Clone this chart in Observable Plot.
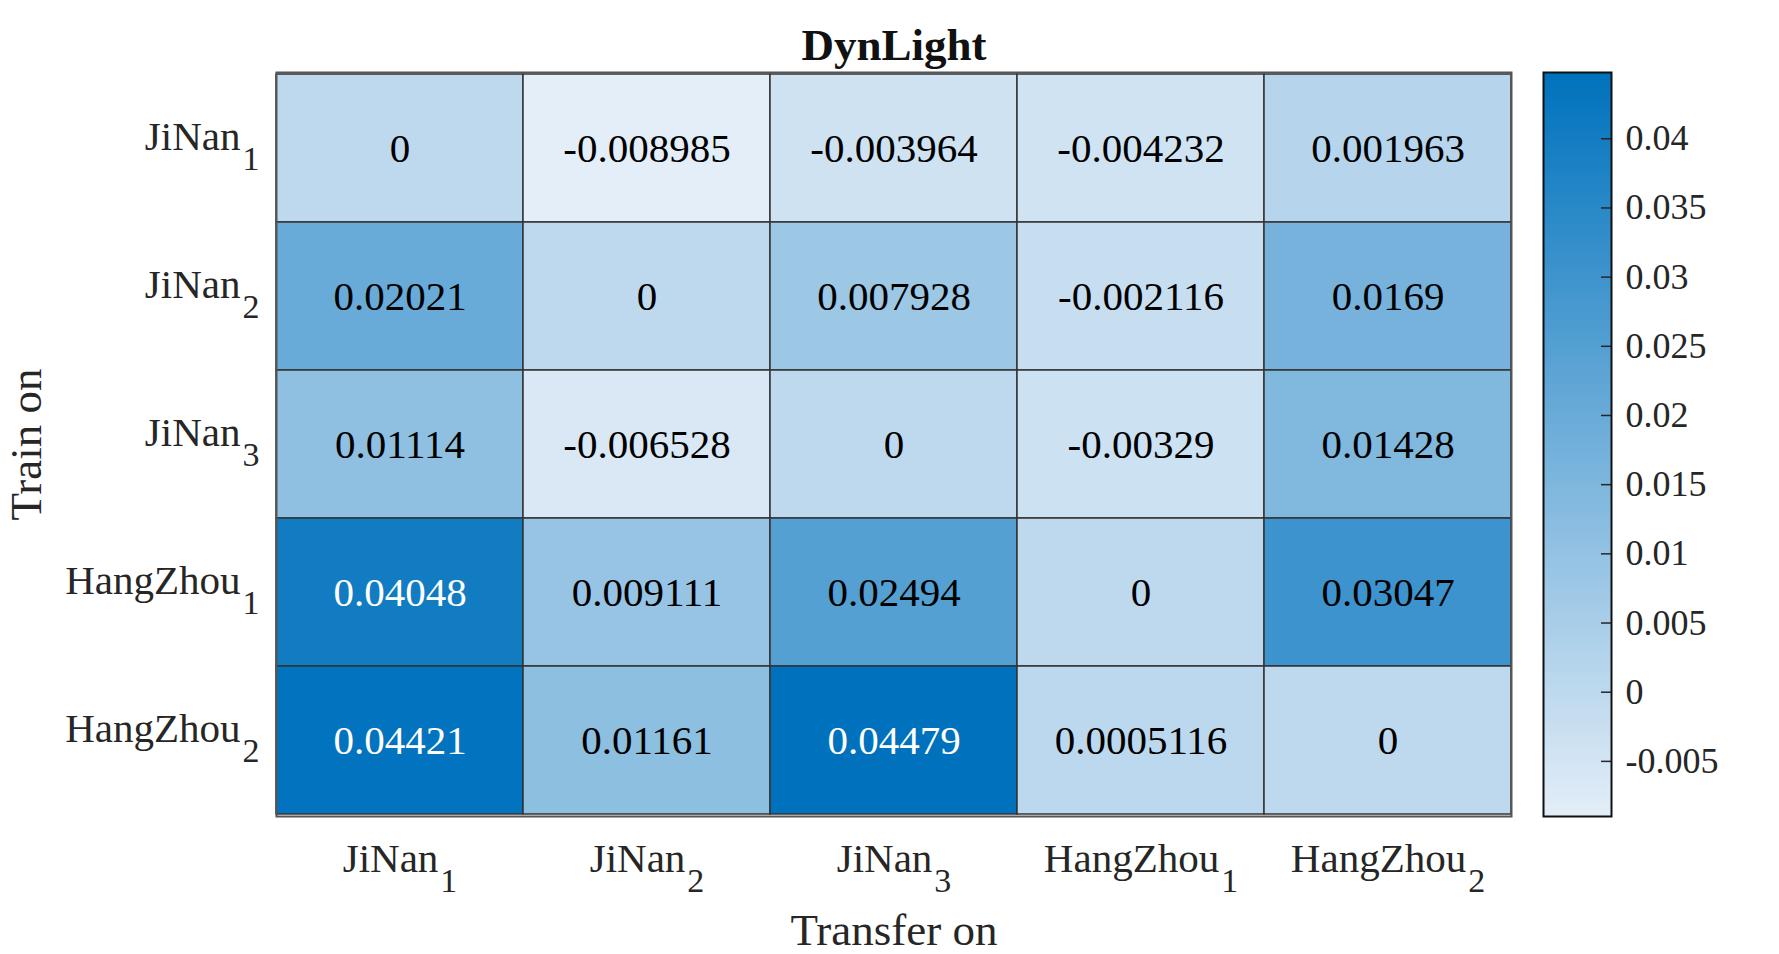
<!DOCTYPE html>
<html>
<head>
<meta charset="utf-8">
<script src="https://cdn.jsdelivr.net/npm/d3@7"></script>
<script src="https://cdn.jsdelivr.net/npm/@observablehq/plot@0.6"></script>
<style>
  body { margin: 0; background: #fff; }
  #wrap { position: relative; width: 1779px; height: 954px; background: #fff; }
  #wrap svg { position: absolute; top: 0; }
</style>
</head>
<body>
<div id="wrap"></div>
<script>
// ---- data ----
const trainOn = ["JiNan_1", "JiNan_2", "JiNan_3", "HangZhou_1", "HangZhou_2"];
const transferOn = ["JiNan_1", "JiNan_2", "JiNan_3", "HangZhou_1", "HangZhou_2"];
const rowJiNan1 = [0, -0.008985, -0.003964, -0.004232, 0.001963];
const rowJiNan2 = [0.02021, 0, 0.007928, -0.002116, 0.0169];
const rowJiNan3 = [0.01114, -0.006528, 0, -0.00329, 0.01428];
const rowHangZhou1 = [0.04048, 0.009111, 0.02494, 0, 0.03047];
const rowHangZhou2 = [0.04421, 0.01161, 0.04479, 0.0005116, 0];
const colorbarTicks = [-0.005, 0, 0.005, 0.01, 0.015, 0.02, 0.025, 0.03, 0.035, 0.04];
const titleText = "DynLight";
const xLabel = "Transfer on";
const yLabel = "Train on";

const rows = [rowJiNan1, rowJiNan2, rowJiNan3, rowHangZhou1, rowHangZhou2];
const cells = trainOn.flatMap((r, i) => transferOn.map((c, j) => ({train: r, transfer: c, value: rows[i][j]})));
const vmin = d3.min(cells, d => d.value);
const vmax = d3.max(cells, d => d.value);
const fmt = v => String(+v.toPrecision(4));

const FONT = "'Liberation Serif', 'Times New Roman', serif";
const colorScale = {type: "linear", domain: [vmin, vmax], range: ["#e4eef8", "#0072bd"], interpolate: "rgb"};
const style = {fontFamily: FONT, fontSize: "41px", color: "#262626", background: "transparent", overflow: "visible"};

const main = Plot.plot({
  width: 1779, height: 954,
  marginLeft: 276, marginRight: 268, marginTop: 72, marginBottom: 138,
  x: {domain: transferOn, padding: 0, axis: null, label: null},
  y: {domain: trainOn, padding: 0, axis: null, label: null},
  color: colorScale,
  style,
  marks: [
    Plot.cell(cells, {x: "transfer", y: "train", fill: "value", stroke: "#333", strokeWidth: 1.5, inset: 0}),
    Plot.text(cells, {filter: d => d.value <= 0.035, x: "transfer", y: "train", text: d => fmt(d.value), fill: "black", fontSize: 41}),
    Plot.text(cells, {filter: d => d.value > 0.035, x: "transfer", y: "train", text: d => fmt(d.value), fill: "white", fontSize: 41}),
    Plot.frame({stroke: "#555", strokeWidth: 2}),
    Plot.axisX({anchor: "bottom", tickSize: 0, tickPadding: 26, fontSize: 41, label: null}),
    Plot.axisY({anchor: "left", tickSize: 0, tickPadding: 17, dy: -12, fontSize: 41, label: null}),
    Plot.text([titleText], {text: d => d, frameAnchor: "top", lineAnchor: "middle", dy: -27, fontWeight: "bold", fontSize: 45, fill: "#111"}),
    Plot.text([xLabel], {text: d => d, frameAnchor: "bottom", lineAnchor: "middle", dy: 114, fontSize: 45}),
    Plot.text([yLabel], {text: d => d, frameAnchor: "left", textAnchor: "middle", lineAnchor: "middle", dx: -250, rotate: -90, fontSize: 45})
  ]
});

// turn "Name_1" tick labels into Name with a subscript
function subscriptify(svg, label) {
  svg.querySelectorAll(`[aria-label="${label}"] text`).forEach(t => {
    const s = t.textContent;
    const k = s.lastIndexOf("_");
    if (k < 0) return;
    t.textContent = s.slice(0, k);
    const ts = document.createElementNS("http://www.w3.org/2000/svg", "tspan");
    ts.setAttribute("dy", "20");
    ts.setAttribute("dx", "2");
    ts.setAttribute("font-size", "34");
    ts.textContent = s.slice(k + 1);
    t.appendChild(ts);
  });
}
subscriptify(main, "x-axis tick label");
subscriptify(main, "y-axis tick label");

const bar = Plot.plot({
  width: 236, height: 954,
  marginLeft: 0, marginRight: 168, marginTop: 72, marginBottom: 138,
  x: {domain: [0, 1], axis: null},
  y: {domain: [vmin, vmax], axis: null},
  color: colorScale,
  style,
  marks: [
    Plot.raster({x1: 0, x2: 1, y1: vmin, y2: vmax, width: 1, height: 256, fill: (x, y) => y}),
    Plot.tickY(colorbarTicks, {y: d => d, insetLeft: 58, stroke: "#262626", strokeWidth: 1.5}),
    Plot.frame({stroke: "#111", strokeWidth: 2}),
    Plot.axisY(colorbarTicks, {anchor: "right", tickSize: 0, tickPadding: 14, tickFormat: d => String(d), fontSize: 36, label: null})
  ]
});

const wrap = document.getElementById("wrap");
main.style.left = "0px";
bar.style.left = "1543px";
wrap.appendChild(main);
wrap.appendChild(bar);
</script>
</body>
</html>
